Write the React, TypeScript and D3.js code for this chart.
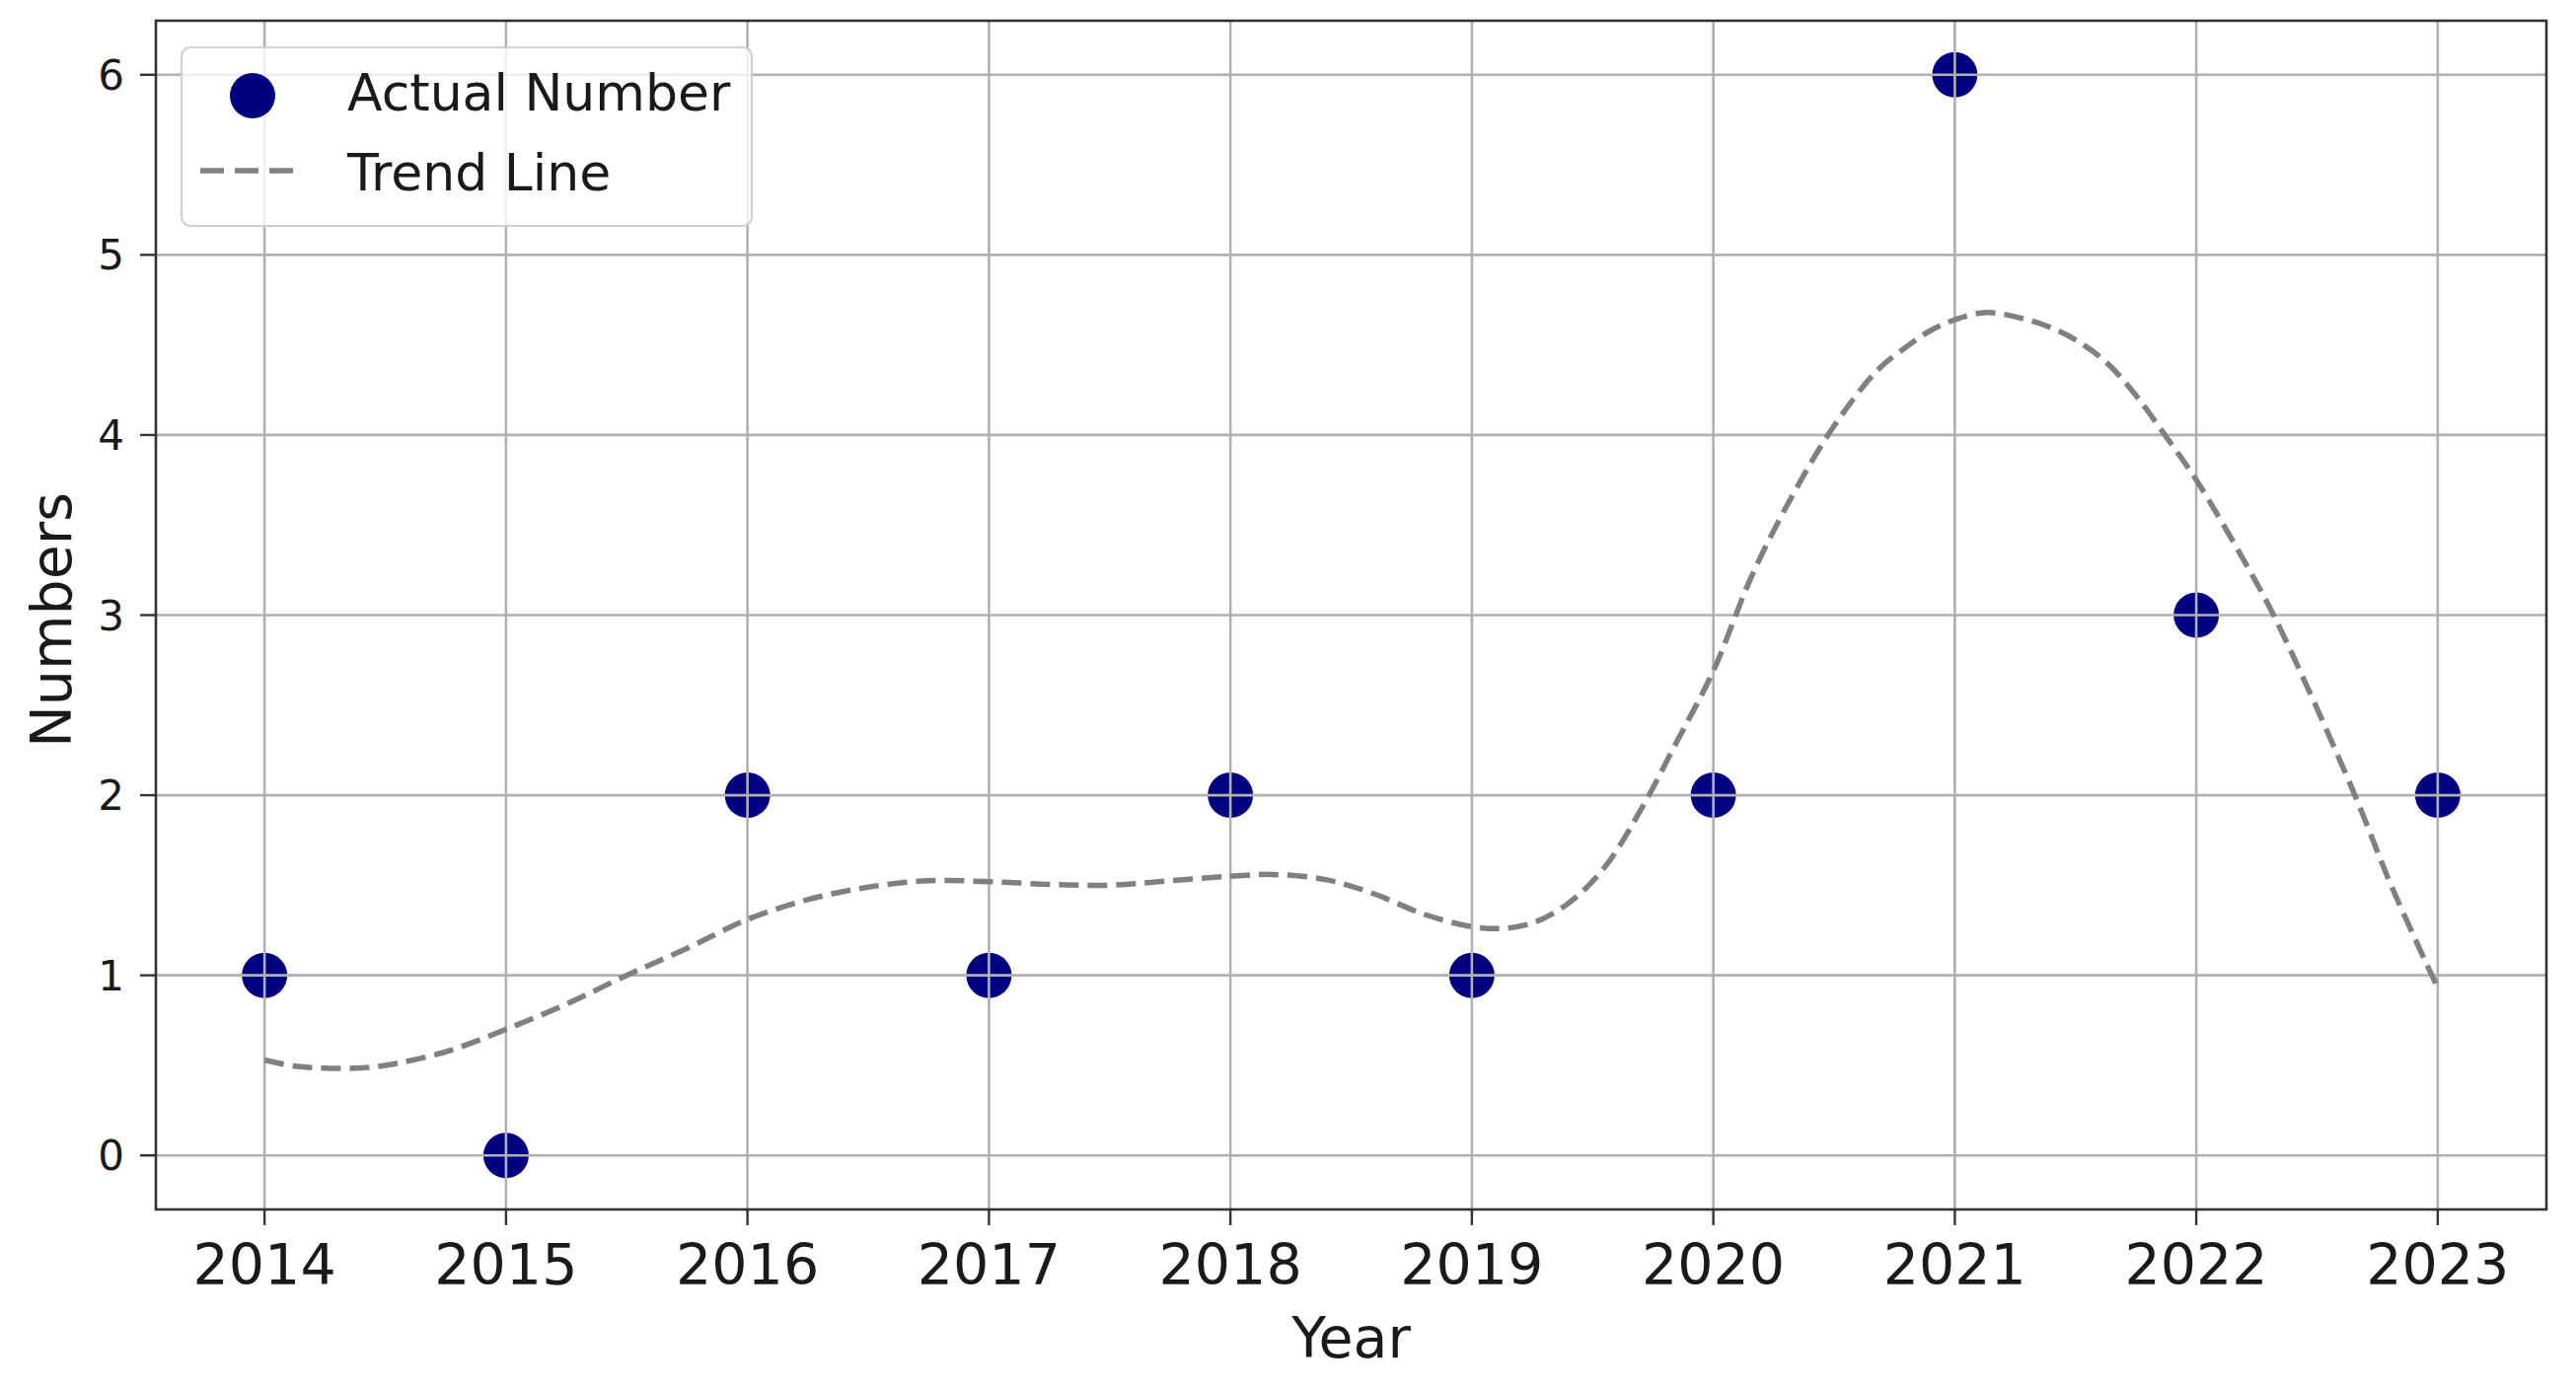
import React from "react";
import * as d3 from "d3";

const years = [2014, 2015, 2016, 2017, 2018, 2019, 2020, 2021, 2022, 2023];
const actualNumbers = [1, 0, 2, 1, 2, 1, 2, 6, 3, 2];

const trendYears = [
  2014.0, 2014.12, 2014.25, 2014.4, 2014.5, 2014.75, 2015.0, 2015.25, 2015.5, 2015.75,
  2016.0, 2016.25, 2016.5, 2016.75, 2017.0, 2017.25, 2017.5, 2017.75, 2018.0, 2018.17,
  2018.4, 2018.6, 2018.8, 2019.0, 2019.12, 2019.25, 2019.4, 2019.55, 2019.7, 2019.85,
  2020.0, 2020.16, 2020.33, 2020.5, 2020.68, 2020.8, 2020.9, 2021.0, 2021.13, 2021.27,
  2021.39, 2021.51, 2021.63, 2021.75, 2021.87, 2022.0, 2022.22, 2022.32, 2022.46, 2022.66,
  2022.81, 2023.0,
];
const trendValues = [
  0.53, 0.497, 0.484, 0.486, 0.5, 0.575, 0.7, 0.84, 1.0, 1.15,
  1.31, 1.42, 1.49, 1.525, 1.52, 1.505, 1.5, 1.525, 1.55, 1.56,
  1.53, 1.45, 1.34, 1.27, 1.26, 1.29, 1.4, 1.6, 1.92, 2.3,
  2.69, 3.22, 3.67, 4.05, 4.36, 4.49, 4.58, 4.64, 4.68, 4.65,
  4.6, 4.52, 4.4, 4.22, 4.0, 3.75, 3.25, 3.0, 2.6, 1.99,
  1.49, 0.93,
];

const yTicks = [0, 1, 2, 3, 4, 5, 6];

const W = 2611;
const H = 1408;
const left = 158;
const right = 2581;
const top = 21;
const bottom = 1226;

export default function App() {
  const x = d3.scaleLinear().domain([2014 - 0.45, 2023 + 0.45]).range([left, right]);
  const y = d3.scaleLinear().domain([-0.3, 6.3]).range([bottom, top]);

  const trendData = trendYears.map((t, i) => [t, trendValues[i]] as [number, number]);
  const linePath = d3
    .line<[number, number]>()
    .x((d) => x(d[0]))
    .y((d) => y(d[1]))
    .curve(d3.curveCatmullRom.alpha(0.5))(trendData) || "";

  const font = "'DejaVu Sans', sans-serif";
  const gridColor = "#b0b0b0";
  const axisColor = "#333333";

  return (
    <svg
      width={W}
      height={H}
      style={{ position: "absolute", left: 0, top: 0, background: "#ffffff" }}
      fontFamily={font}
    >
      <rect x={0} y={0} width={W} height={H} fill="#ffffff" />
      {/* scatter (drawn below grid like matplotlib) */}
      {years.map((yr, i) => (
        <circle key={"p" + yr} cx={x(yr)} cy={y(actualNumbers[i])} r={23} fill="#000080" />
      ))}
      {/* grid */}
      {years.map((yr) => (
        <line key={"gx" + yr} x1={x(yr)} x2={x(yr)} y1={top} y2={bottom} stroke={gridColor} strokeWidth={2.6} />
      ))}
      {yTicks.map((v) => (
        <line key={"gy" + v} x1={left} x2={right} y1={y(v)} y2={y(v)} stroke={gridColor} strokeWidth={2.6} />
      ))}
      {/* trend line */}
      <path d={linePath} fill="none" stroke="#808080" strokeWidth={5.5} strokeDasharray="20 9" />
      {/* spines */}
      <rect x={left} y={top} width={right - left} height={bottom - top} fill="none" stroke={axisColor} strokeWidth={2.6} />
      {/* x ticks */}
      {years.map((yr) => (
        <g key={"tx" + yr}>
          <line x1={x(yr)} x2={x(yr)} y1={bottom} y2={bottom + 16} stroke={axisColor} strokeWidth={2.4} />
          <text x={x(yr)} y={1302} textAnchor="middle" fontSize={57} fill="#1a1a1a">
            {yr}
          </text>
        </g>
      ))}
      {/* y ticks */}
      {yTicks.map((v) => (
        <g key={"ty" + v}>
          <line x1={left - 16} x2={left} y1={y(v)} y2={y(v)} stroke={axisColor} strokeWidth={2.4} />
          <text x={126} y={y(v) + 15} textAnchor="end" fontSize={42} fill="#1a1a1a">
            {v}
          </text>
        </g>
      ))}
      {/* axis labels */}
      <text x={(left + right) / 2} y={1376} textAnchor="middle" fontSize={57} fill="#1a1a1a">
        Year
      </text>
      <text
        transform={`translate(72, ${(top + bottom) / 2 + 5}) rotate(-90)`}
        textAnchor="middle"
        fontSize={57}
        fill="#1a1a1a"
      >
        Numbers
      </text>
      {/* legend */}
      <g>
        <rect x={184} y={48} width={578} height={181} rx={9} ry={9} fill="#ffffff" fillOpacity={0.8} stroke="#d0d0d0" strokeWidth={2.2} />
        <circle cx={256} cy={97} r={23} fill="#000080" />
        <text x={352} y={112} fontSize={52} fill="#1a1a1a">
          Actual Number
        </text>
        <line x1={203} x2={297} y1={173} y2={173} stroke="#808080" strokeWidth={5.5} strokeDasharray="24 11" />
        <text x={352} y={193} fontSize={52} fill="#1a1a1a">
          Trend Line
        </text>
      </g>
    </svg>
  );
}
